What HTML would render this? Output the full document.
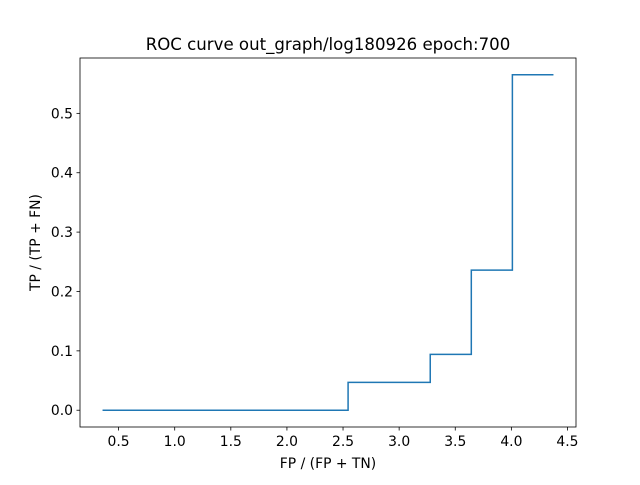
<!DOCTYPE html>
<html><head><meta charset="utf-8"><style>
body{margin:0;background:#fff}
svg text{font-family:"DejaVu Sans","Liberation Sans",sans-serif;fill:#000}
</style></head><body>
<svg width="640" height="480" xmlns="http://www.w3.org/2000/svg">
<rect width="640" height="480" fill="#fff"/>
<text x="328" y="50" font-size="16.6" text-anchor="middle">ROC curve out_graph/log180926 epoch:700</text>
<g id="ticks"></g>
<path id="curve" fill="none" stroke="#1f77b4" stroke-width="1.5"/>
<rect x="80" y="58" width="496" height="369" fill="none" stroke="#000" stroke-width="0.8"/>
<text x="328" y="468" font-size="13.9" text-anchor="middle">FP / (FP + TN)</text>
<text x="0" y="0" font-size="13.9" text-anchor="middle" transform="translate(40,242.5) rotate(-90)">TP / (TP + FN)</text>
</svg>
<script>
const stepX = [0.357, 2.545, 3.277, 3.643, 4.009, 4.375];
const stepY = [0, 0.047, 0.094, 0.236, 0.565, 0.565];
const xTicks = [0.5, 1.0, 1.5, 2.0, 2.5, 3.0, 3.5, 4.0, 4.5];
const yTicks = [0.0, 0.1, 0.2, 0.3, 0.4, 0.5];
const xLabels = ["0.5","1.0","1.5","2.0","2.5","3.0","3.5","4.0","4.5"];
const yLabels = ["0.0","0.1","0.2","0.3","0.4","0.5"];
const X0=80,X1=576,Y0=427,Y1=58;
const xr=stepX[stepX.length-1]-stepX[0], xmin=stepX[0]-0.05*xr, xmax=stepX[stepX.length-1]+0.05*xr;
const ymx=Math.max(...stepY), ymn=Math.min(...stepY), yr=ymx-ymn, ymin=ymn-0.05*yr, ymax=ymx+0.05*yr;
const sx=v=>X0+(v-xmin)/(xmax-xmin)*(X1-X0);
const sy=v=>Y0-(v-ymin)/(ymax-ymin)*(Y0-Y1);
let d="M"+sx(stepX[0])+","+sy(stepY[0]);
for(let i=1;i<stepX.length;i++){d+=" L"+sx(stepX[i])+","+sy(stepY[i-1])+" L"+sx(stepX[i])+","+sy(stepY[i]);}
document.getElementById('curve').setAttribute('d',d);
const g=document.getElementById('ticks');const ns="http://www.w3.org/2000/svg";
xTicks.forEach((t,i)=>{const x=sx(t);
const l=document.createElementNS(ns,'line');l.setAttribute('x1',x);l.setAttribute('x2',x);l.setAttribute('y1',Y0);l.setAttribute('y2',Y0+3.5);l.setAttribute('stroke','#000');l.setAttribute('stroke-width','0.8');

g.appendChild(l);
const tx=document.createElementNS(ns,'text');tx.setAttribute('x',x);tx.setAttribute('y',Y0+19);tx.setAttribute('font-size','13.9');tx.setAttribute('text-anchor','middle');tx.textContent=xLabels[i];

g.appendChild(tx);});
yTicks.forEach((t,i)=>{const y=sy(t);
const l=document.createElementNS(ns,'line');l.setAttribute('x1',X0-3.5);l.setAttribute('x2',X0);l.setAttribute('y1',y);l.setAttribute('y2',y);l.setAttribute('stroke','#000');l.setAttribute('stroke-width','0.8');

g.appendChild(l);
const tx=document.createElementNS(ns,'text');tx.setAttribute('x',X0-7);tx.setAttribute('y',y+5);tx.setAttribute('font-size','13.9');tx.setAttribute('text-anchor','end');tx.textContent=yLabels[i];

g.appendChild(tx);});
</script>
</body></html>
